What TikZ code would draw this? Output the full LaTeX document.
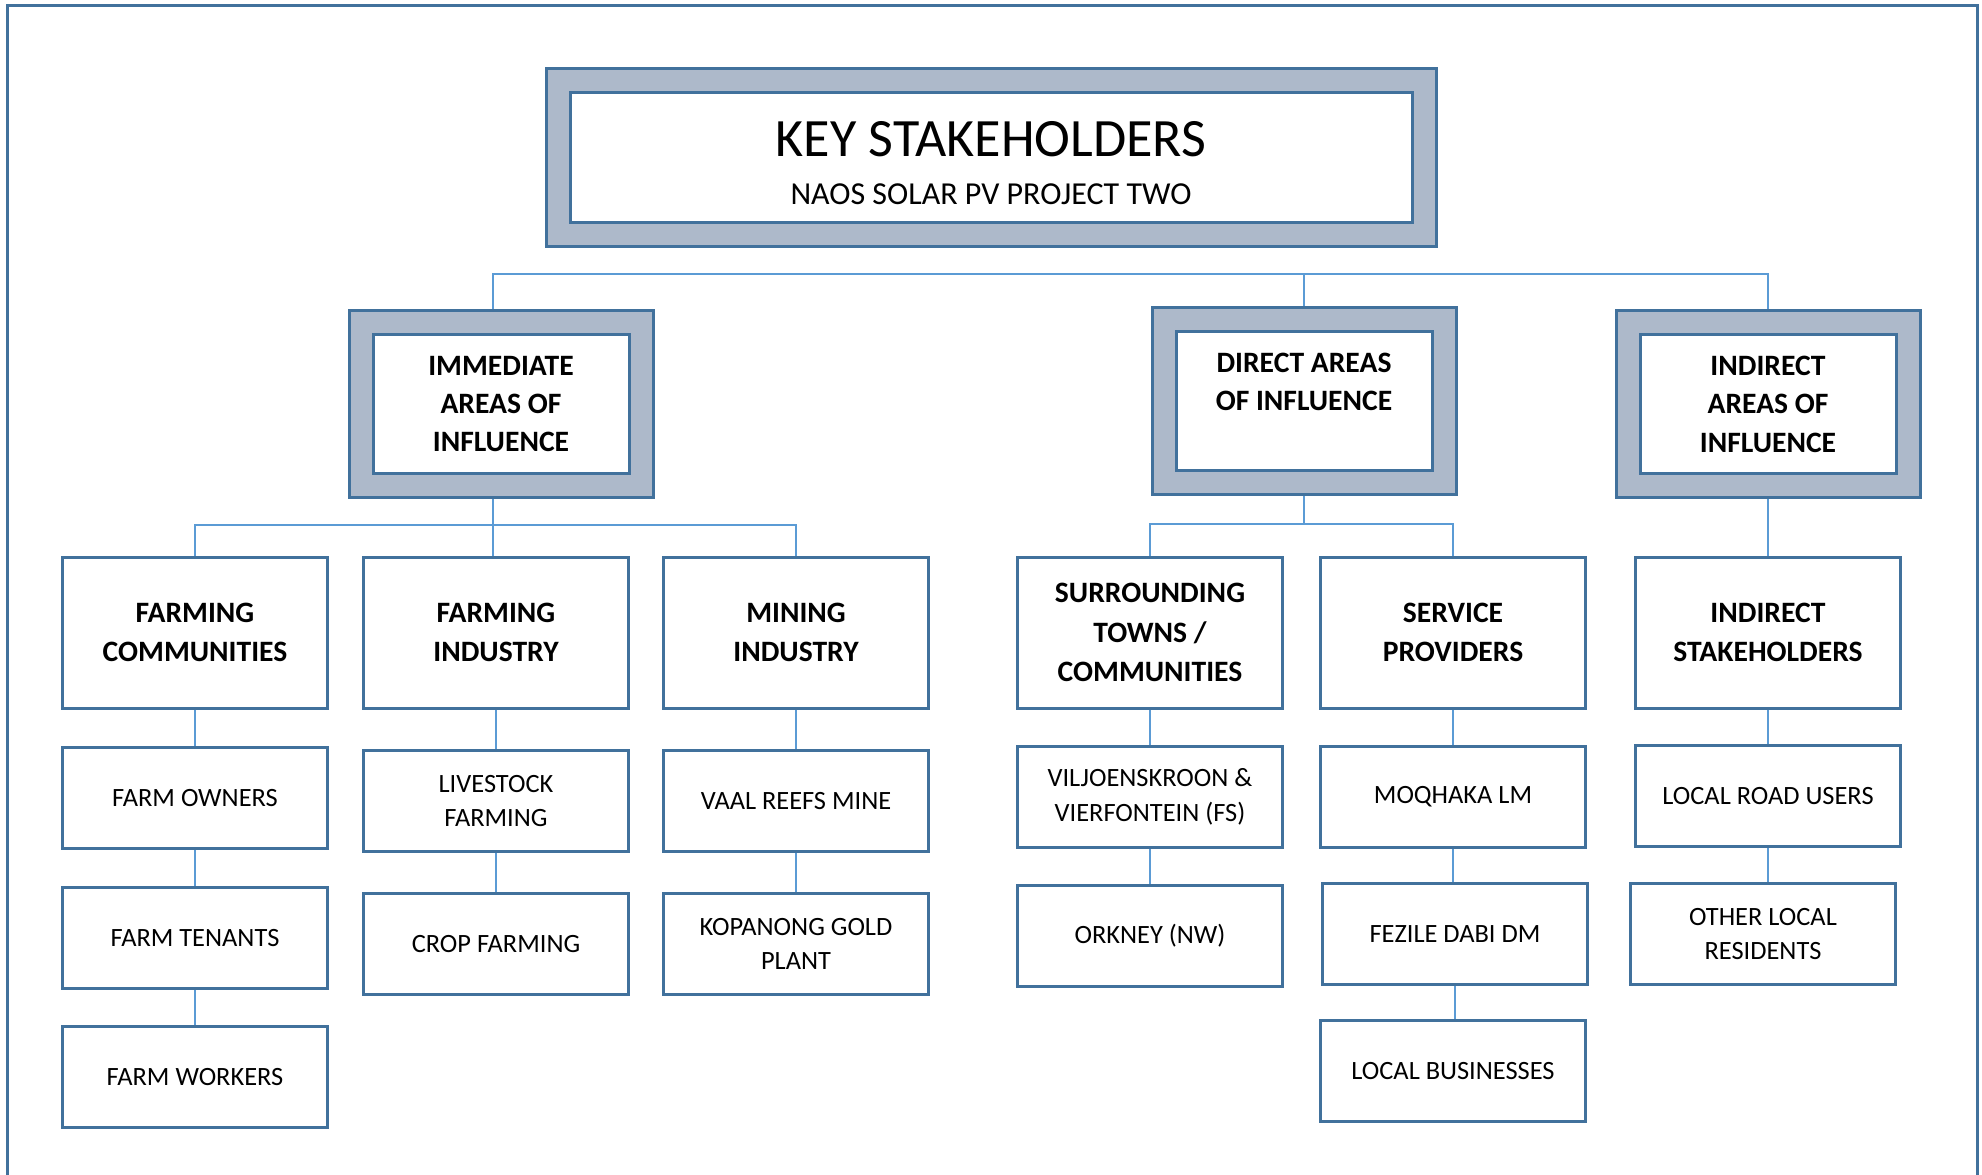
\documentclass[tikz,border=0pt]{standalone}
\usepackage{fontspec}
\setmainfont{Carlito}
\definecolor{edgeblue}{HTML}{41719C}
\definecolor{bandgrey}{HTML}{ADB9CA}
\definecolor{linkblue}{HTML}{5B9BD5}

\begin{document}
\begin{tikzpicture}[x = 0.5pt, y = -0.5pt,
    titlebox/.style = {draw = edgeblue, line width = 1.5pt, double = bandgrey,
      double distance = 10.5pt, outer sep = 6.75pt, fill = white, inner sep = 0pt,
      minimum width = 433pt, minimum height = 77pt, align = center,
      font = \fontsize{16}{24.25}\selectfont},
    areabox/.style = {draw = edgeblue, line width = 1.5pt, double = bandgrey,
      double distance = 10.5pt, outer sep = 6.75pt, fill = white, inner sep = 0pt,
      minimum width = 140pt, minimum height = 81.5pt, align = center,
      font = \fontsize{14.8}{19.2}\selectfont\bfseries},
    groupbox/.style = {draw = edgeblue, line width = 1.5pt, fill = white,
      minimum width = 132.5pt, minimum height = 75.5pt, align = center,
      font = \fontsize{14.8}{19.6}\selectfont\bfseries},
    itembox/.style = {draw = edgeblue, line width = 1.5pt, fill = white,
      minimum width = 132.5pt, minimum height = 50.5pt, align = center,
      font = \fontsize{13.2}{17.4}\selectfont},
    link/.style = {draw = linkblue, line width = 0.75pt}]

  \useasboundingbox (0,0) rectangle (1982,1174);
  \draw[edgeblue, line width = 1.5pt] (7,5) rectangle (1977,1200);

  % top level
  \node[titlebox] (key) at (991,157.5)
    {{\fontsize{27}{24.25}\selectfont\rule{0pt}{23pt}KEY STAKEHOLDERS}\\NAOS SOLAR PV PROJECT TWO};

  % areas of influence
  \node[areabox] (imm) at (501,404) {IMMEDIATE\\AREAS OF\\INFLUENCE};
  \node[areabox] (dir) at (1304,401) {DIRECT AREAS\\OF INFLUENCE\\ \mbox{}};
  \node[areabox] (ind) at (1768,404) {INDIRECT\\AREAS OF\\INFLUENCE};

  \coordinate (topbus) at (0,274);
  \draw[link] ([xshift=-4pt]imm.north) -- ([xshift=-4pt]imm.north |- topbus) -- (ind.north |- topbus) -- (ind.north);
  \draw[link] (dir.north) -- (dir.north |- topbus);

  % stakeholder groups
  \node[groupbox] (fc) at (195,632.5) {FARMING\\COMMUNITIES};
  \node[groupbox] (fi) at (496,632.5) {FARMING\\INDUSTRY};
  \node[groupbox] (mi) at (796,632.5) {MINING\\INDUSTRY};
  \node[groupbox] (st) at (1150,632.5) {SURROUNDING\\TOWNS /\\COMMUNITIES};
  \node[groupbox] (sp) at (1453,632.5) {SERVICE\\PROVIDERS};
  \node[groupbox] (is) at (1768,632.5) {INDIRECT\\STAKEHOLDERS};

  \coordinate (immbus) at (0,525);
  \coordinate (dirbus) at (0,524);
  \draw[link] ([xshift=-1.5pt]fi.north) -- ([xshift=-1.5pt]fi.north |- imm.south);
  \draw[link] (fc.north) |- (mi.north |- immbus) -- (mi.north);
  \draw[link] (dir.south) -- (dir.south |- dirbus);
  \draw[link] (st.north) |- (sp.north |- dirbus) -- (sp.north);
  \draw[link] (ind.south) -- (is.north);

  % individual stakeholders
  \node[itembox] (fo) at (195,798) {FARM OWNERS};
  \node[itembox] (ft) at (195,938) {FARM TENANTS};
  \node[itembox] (fw) at (195,1077) {FARM WORKERS};

  \node[itembox] (lf) at (496,801) {LIVESTOCK\\FARMING};
  \node[itembox] (cf) at (496,944) {CROP FARMING};

  \node[itembox] (vr) at (796,801) {VAAL REEFS MINE};
  \node[itembox] (kg) at (796,944) {KOPANONG GOLD\\PLANT};

  \node[itembox] (vv) at (1150,797) {VILJOENSKROON \&\\VIERFONTEIN (FS)};
  \node[itembox] (ok) at (1150,936) {ORKNEY (NW)};

  \node[itembox] (mq) at (1453,797) {MOQHAKA LM};
  \node[itembox] (fz) at (1455,934) {FEZILE DABI DM};
  \node[itembox] (lb) at (1453,1071) {LOCAL BUSINESSES};

  \node[itembox] (lr) at (1768,796) {LOCAL ROAD USERS};
  \node[itembox] (ol) at (1763,934) {OTHER LOCAL\\RESIDENTS};

  \draw[link] (fc) -- (fo) -- (ft) -- (fw);
  \draw[link] (fi) -- (lf) -- (cf);
  \draw[link] (mi) -- (vr) -- (kg);
  \draw[link] (st) -- (vv) -- (ok);
  \draw[link] (sp) -- (mq);
  \draw[link] (mq.south) -- (mq.south |- fz.north);
  \draw[link] (fz.south) -- (fz.south |- lb.north);
  \draw[link] (is) -- (lr);
  \draw[link] (lr.south) -- (lr.south |- ol.north);
\end{tikzpicture}
\end{document}
